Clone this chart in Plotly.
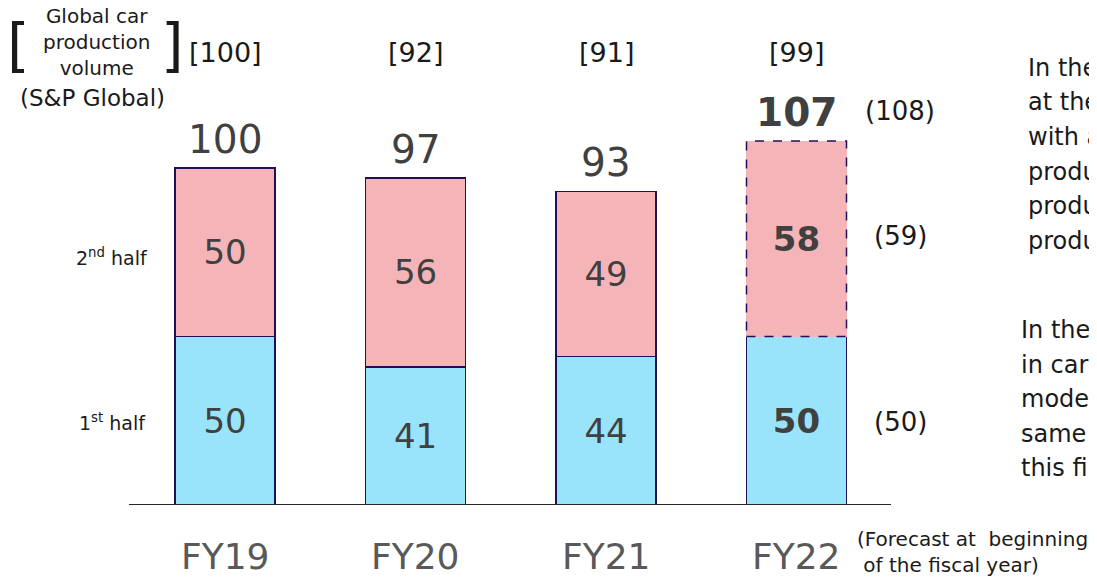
import plotly.graph_objects as go

# data
years = ["FY19", "FY20", "FY21", "FY22"]
first_half = [50, 41, 44, 50]
second_half = [50, 56, 49, 58]
totals = [100, 97, 93, 107]
global_prod = [100, 92, 91, 99]
forecast_total = 108
forecast_first = 50
forecast_second = 59

OFF = 8               # page body margin around the plot div
W, H = 1097 - OFF, 577 - OFF
BASE = 505 - OFF      # baseline row inside the figure
PX_PER_UNIT = 3.37
BAR_W = 0.525
FONT = "DejaVu Sans"
BLUE = "rgb(153,228,250)"
PINK = "rgb(244,180,184)"
EDGE = "#20105a"
NUM = "#404040"
INK = "#1a1a1a"


def pos(x, y):
    # page pixel position -> paper coords
    return (x - OFF) / W, (BASE - (y - OFF)) / BASE


def note(x, y, text, size, color=INK, xanchor="center", **kw):
    px, py = pos(x, y)
    return dict(x=px, y=py, xref="paper", yref="paper", text=text, showarrow=False,
                xanchor=xanchor, yanchor="middle",
                font=dict(size=size, color=color, family=FONT), **kw)


xs = list(range(len(years)))
bold = [i == len(years) - 1 for i in xs]


def lab(v, b):
    return f"<b>{v}</b>" if b else str(v)


fig = go.Figure()
fig.add_trace(go.Bar(
    x=xs, y=first_half, width=BAR_W,
    marker=dict(color=BLUE, line=dict(color=EDGE, width=1.5)),
    text=[lab(v, b) for v, b in zip(first_half, bold)],
    textposition="inside", insidetextanchor="middle", textangle=0,
    textfont=dict(size=34, color=NUM, family=FONT),
    hoverinfo="skip", showlegend=False,
))
fig.add_trace(go.Bar(
    x=xs, y=second_half, width=BAR_W,
    marker=dict(color=PINK, line=dict(color=EDGE, width=[1.5, 1.5, 1.5, 0])),
    text=[lab(v, b) for v, b in zip(second_half, bold)],
    textposition="inside", insidetextanchor="middle", textangle=0,
    textfont=dict(size=34, color=NUM, family=FONT),
    hoverinfo="skip", showlegend=False,
))

# dashed outline for the forecast half
i = len(years) - 1
fig.add_shape(type="rect", xref="x", yref="y",
              x0=xs[i] - BAR_W / 2, x1=xs[i] + BAR_W / 2,
              y0=first_half[i], y1=first_half[i] + second_half[i],
              line=dict(color=EDGE, width=1.5, dash="dash"))

# baseline
bx0, _ = pos(129, 0)
bx1, _ = pos(891, 0)
fig.add_shape(type="line", xref="paper", yref="y", x0=bx0, x1=bx1, y0=0, y1=0,
              line=dict(color="#262626", width=2))

ann = []
_, gy = pos(0, 52)
for k, yr in enumerate(years):
    # totals above bars
    ann.append(dict(x=xs[k], y=first_half[k] + second_half[k], xref="x", yref="y",
                    text=lab(totals[k], bold[k]), showarrow=False, yshift=29,
                    xanchor="center", yanchor="middle",
                    font=dict(size=39, color=NUM, family=FONT)))
    # fiscal year labels
    ann.append(dict(x=xs[k], y=0, xref="x", yref="y", text=yr, showarrow=False,
                    yshift=-51, xanchor="center", yanchor="middle",
                    font=dict(size=36, color="#595959", family=FONT)))
    # global production index
    ann.append(dict(x=xs[k], y=gy, xref="x", yref="paper", text=f"[{global_prod[k]}]",
                    showarrow=False, xanchor="center", yanchor="middle",
                    font=dict(size=27, color=INK, family=FONT)))

# forecast values at beginning of the year
for val, py in [(forecast_total, 111), (forecast_second, 236), (forecast_first, 422)]:
    ann.append(note(900, py, f"({val})", 26))

# half labels
ann.append(note(112, 257, "2<sup>nd</sup> half", 19))
ann.append(note(112, 422, "1<sup>st</sup> half", 19))

# top-left legend label
ann.append(note(96, 42, "Global car<br>production<br>volume", 20))
ann.append(note(18, 46, "[", 58))
ann.append(note(172, 46, "]", 58))
ann.append(note(92, 98, "(S&P Global)", 23))

ann.append(note(855, 552, "(Forecast at  beginning<br> of the fiscal year)", 20,
                xanchor="left", align="left"))

# side commentary (cut off at the page edge)
side1 = ["In the", "at the", "with a", "produc", "produc", "produc"]
side2 = ["In the", "in car", "model", "same", "this fi"]
for lines, px0, py0 in [(side1, 1026, 68), (side2, 1019, 330)]:
    for j, t in enumerate(lines):
        ann.append(note(px0, py0 + j * 34.5, t, 24, xanchor="left"))

fig.update_layout(
    width=W, height=H,
    margin=dict(l=0, r=0, t=0, b=H - BASE),
    paper_bgcolor="white", plot_bgcolor="white",
    barmode="stack",
    annotations=ann,
    xaxis=dict(range=[-(225 - OFF) / 190.5, (W - (225 - OFF)) / 190.5], visible=False),
    yaxis=dict(range=[0, BASE / PX_PER_UNIT], visible=False),
)

fig.write_html("out.html")
